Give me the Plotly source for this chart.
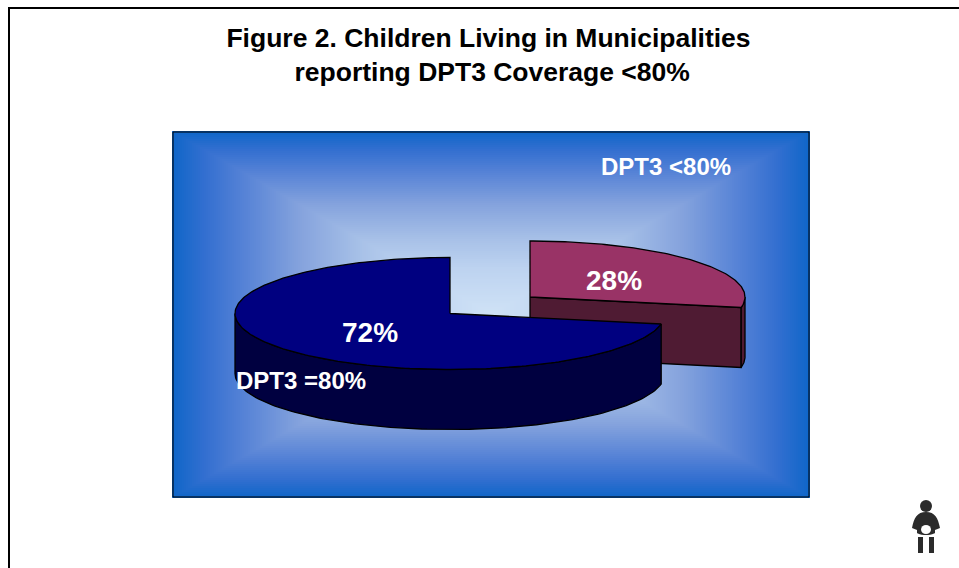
import numpy as np
import plotly.graph_objects as go

# ---- data ----
categories = ["DPT3 <80%", "DPT3 =80%"]
values = [28, 72]
percent_labels = ["28%", "72%"]
title_lines = ["Figure 2. Children Living in Municipalities", "reporting DPT3 Coverage &lt;80%"]

W, H = 959, 568
RX, RY, DEPTH = 215, 56, 60
CENTER_RED = (530, 297)
CENTER_BLUE = (450, 313.5)
PX0, PX1, PY0, PY1 = 173, 809, 132, 497

split = values[0] / sum(values) * 360.0


def arc(center, a0, a1, dy=0, n=120):
    t = np.radians(np.linspace(a0, a1, n))
    return center[0] + RX * np.sin(t), center[1] - RY * np.cos(t) + dy


def poly(x, y, color):
    return go.Scatter(x=list(x) + [x[0]], y=list(y) + [y[0]], mode="lines", fill="toself",
                      fillcolor=color, line=dict(color="#000000", width=1.3),
                      hoverinfo="skip", showlegend=False)


fig = go.Figure()

# rectangular gradient background
gx = np.linspace(PX0, PX1, 319)
gy = np.linspace(PY0, PY1, 183)
XX, YY = np.meshgrid(gx, gy)
mx, my = (PX0 + PX1) / 2, (PY0 + PY1) / 2
Z = np.maximum(np.abs(XX - mx) / ((PX1 - PX0) / 2), np.abs(YY - my) / ((PY1 - PY0) / 2))
fig.add_trace(go.Heatmap(
    x=gx, y=gy, z=Z, zmin=0, zmax=1, showscale=False, hoverinfo="skip",
    colorscale=[[0, "#cfe2f6"], [0.25, "#bdd3f0"], [0.4, "#a9c2e8"], [0.6, "#85a3dd"],
                [0.78, "#5582d6"], [0.9, "#336fd0"], [1, "#0f66c8"]]))

# red slice: side faces, then top
ax, ay = arc(CENTER_RED, 0, split)
ex, ey = ax[-1], ay[-1]
fig.add_trace(poly([CENTER_RED[0], ex, ex, CENTER_RED[0]],
                   [CENTER_RED[1], ey, ey + DEPTH, CENTER_RED[1] + DEPTH], "#4f1b33"))
wx, wy = arc(CENTER_RED, 90, split)
wbx, wby = arc(CENTER_RED, split, 90, dy=DEPTH)
fig.add_trace(poly(np.r_[wx, wbx], np.r_[wy, wby], "#4f1b33"))
fig.add_trace(poly(np.r_[CENTER_RED[0], ax], np.r_[CENTER_RED[1], ay], "#993366"))

# blue slice: outer wall, then top
wx, wy = arc(CENTER_BLUE, split, 270)
wbx, wby = arc(CENTER_BLUE, 270, split, dy=DEPTH)
fig.add_trace(poly(np.r_[wx, wbx], np.r_[wy, wby], "#000040"))
ax, ay = arc(CENTER_BLUE, split, 360, n=240)
fig.add_trace(poly(np.r_[CENTER_BLUE[0], ax], np.r_[CENTER_BLUE[1], ay], "#000080"))

shapes = [
    dict(type="rect", x0=PX0, x1=PX1, y0=PY0, y1=PY1, line=dict(color="#000000", width=1), layer="above"),
    dict(type="line", x0=9, x1=9, y0=8, y1=H, line=dict(color="#000000", width=2)),
    dict(type="line", x0=8, x1=W, y0=8, y1=8, line=dict(color="#000000", width=2)),
    # child pictogram
    dict(type="circle", x0=920, x1=932, y0=500, y1=512, fillcolor="#2b2b2b", line_width=0),
    dict(type="path", path="M 926 512 C 917 512 914 518 912 528 L 917 530 L 917 535 L 935 535 L 935 530 L 940 528 C 938 518 935 512 926 512 Z",
         fillcolor="#2b2b2b", line_width=0),
    dict(type="path", path="M 913 529 C 916 537 936 537 939 529 L 939 533 C 934 540 918 540 913 533 Z",
         fillcolor="#ffffff", line_width=0),
    dict(type="circle", x0=921, x1=931, y0=525, y1=534, fillcolor="#ffffff", line_width=0),
    dict(type="rect", x0=918, x1=923, y0=537, y1=553, fillcolor="#2b2b2b", line_width=0),
    dict(type="rect", x0=929, x1=934, y0=537, y1=553, fillcolor="#2b2b2b", line_width=0),
]

label_font = dict(family="Liberation Sans, Arial, sans-serif", color="#ffffff")
anns = [
    dict(x=666, y=166, text=categories[0].replace("<", "&lt;"), font=dict(size=24, **label_font)),
    dict(x=301, y=380, text=categories[1], font=dict(size=24, **label_font)),
    dict(x=614, y=280, text=percent_labels[0], font=dict(size=28, **label_font)),
    dict(x=370, y=332, text=percent_labels[1], font=dict(size=28, **label_font)),
]
for a in anns:
    a.update(xref="x", yref="y", showarrow=False, xanchor="center", yanchor="middle")
    a["text"] = "<b>" + a["text"] + "</b>"

fig.update_layout(
    width=W, height=H, margin=dict(l=0, r=0, t=0, b=0),
    paper_bgcolor="#ffffff", plot_bgcolor="#ffffff", showlegend=False,
    xaxis=dict(range=[0, W], visible=False, fixedrange=True),
    yaxis=dict(range=[H, 0], visible=False, fixedrange=True),
    shapes=shapes, annotations=anns,
    title=dict(text="<b>" + title_lines[0] + "<br>&#160;" + title_lines[1] + "</b>",
               x=488.5 / W, xanchor="center", y=1 - 47 / H, yanchor="middle",
               font=dict(family="Liberation Sans, Arial, sans-serif", size=26.5, color="#000000")),
)
fig.write_html("out.html", config=dict(displayModeBar=False),
               post_script="document.body.style.margin='0';document.body.style.overflow='hidden';")
